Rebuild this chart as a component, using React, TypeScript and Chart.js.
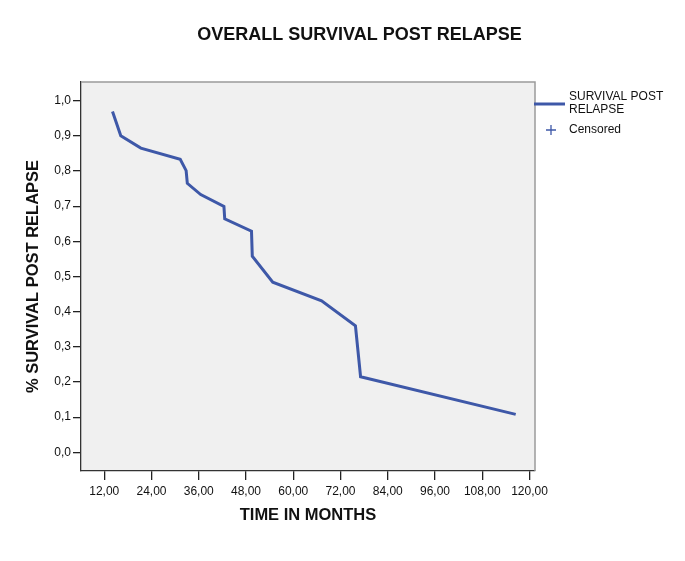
import React, { useEffect, useRef } from "react";
import { Chart, registerables } from "chart.js";

Chart.register(...registerables);

const chartTitle = "OVERALL SURVIVAL POST RELAPSE";
const xAxisTitle = "TIME IN MONTHS";
const yAxisTitle = "% SURVIVAL POST RELAPSE";
const seriesName = ["SURVIVAL POST", "RELAPSE"];
const censoredName = "Censored";

const months = [14.1, 16.2, 21.3, 31.3, 32.8, 33.1, 36.5, 42.4, 42.6, 49.4, 49.6, 54.8, 67.2, 75.8, 77.1, 116.5];
const survival = [0.969, 0.9, 0.865, 0.833, 0.801, 0.765, 0.733, 0.699, 0.664, 0.629, 0.558, 0.484, 0.431, 0.36, 0.215, 0.108];

const xTickValues = [12, 24, 36, 48, 60, 72, 84, 96, 108, 120];
const yTickValues = [0, 0.1, 0.2, 0.3, 0.4, 0.5, 0.6, 0.7, 0.8, 0.9, 1.0];

const LINE_COLOR = "#3e58a8";
const FONT = "Arial, 'Liberation Sans', sans-serif";

const decorPlugin = {
  id: "decor",
  beforeDraw(chart: any) {
    const { ctx, chartArea } = chart;
    ctx.save();
    ctx.fillStyle = "#f0f0f0";
    ctx.fillRect(chartArea.left, chartArea.top, chartArea.right - chartArea.left, chartArea.bottom - chartArea.top);
    ctx.restore();
  },
  afterDraw(chart: any) {
    const { ctx, chartArea } = chart;
    ctx.save();
    // top & right frame
    ctx.strokeStyle = "#9a9a9a";
    ctx.lineWidth = 1.5;
    ctx.beginPath();
    ctx.moveTo(chartArea.left, chartArea.top);
    ctx.lineTo(chartArea.right, chartArea.top);
    ctx.lineTo(chartArea.right, chartArea.bottom);
    ctx.stroke();

    // title
    ctx.fillStyle = "#111";
    ctx.font = `bold 18px ${FONT}`;
    ctx.textAlign = "center";
    ctx.textBaseline = "middle";
    ctx.fillText(chartTitle, 359.5, 35);

    // legend
    const lx = chartArea.right - 1;
    ctx.strokeStyle = LINE_COLOR;
    ctx.lineWidth = 3;
    ctx.beginPath();
    ctx.moveTo(lx, 104);
    ctx.lineTo(lx + 31, 104);
    ctx.stroke();

    ctx.font = `12px ${FONT}`;
    ctx.fillStyle = "#111";
    ctx.textAlign = "left";
    ctx.textBaseline = "middle";
    ctx.fillText(seriesName[0], 569, 96.5);
    ctx.fillText(seriesName[1], 569, 110);
    ctx.fillText(censoredName, 569, 129.5);

    ctx.strokeStyle = LINE_COLOR;
    ctx.lineWidth = 1.3;
    ctx.beginPath();
    ctx.moveTo(546, 130);
    ctx.lineTo(556, 130);
    ctx.moveTo(551, 125);
    ctx.lineTo(551, 135);
    ctx.stroke();
    ctx.restore();
  },
};

export default function App() {
  const canvasRef = useRef<HTMLCanvasElement | null>(null);

  useEffect(() => {
    if (!canvasRef.current) return;
    const data = months.map((m, i) => ({ x: m, y: survival[i] }));
    const chart = new Chart(canvasRef.current, {
      type: "line",
      data: {
        datasets: [
          {
            label: seriesName.join(" "),
            data,
            borderColor: LINE_COLOR,
            backgroundColor: LINE_COLOR,
            borderWidth: 3,
            pointRadius: 0,
            tension: 0,
            fill: false,
          },
        ],
      },
      options: {
        responsive: false,
        animation: false,
        devicePixelRatio: 1,
        layout: { padding: { top: 82, right: 150, left: 0, bottom: 0 } },
        plugins: {
          legend: { display: false },
          title: { display: false },
          tooltip: { enabled: false },
        },
        scales: {
          x: {
            type: "linear",
            min: 6.1,
            max: 121.4,
            afterFit(scale: any) {
              scale.height = 90;
            },
            afterBuildTicks(scale: any) {
              scale.ticks = xTickValues.map((v) => ({ value: v }));
            },
            ticks: {
              autoSkip: false,
              maxRotation: 0,
              padding: 4,
              color: "#111",
              font: { family: FONT, size: 12 },
              callback: (v: any) => Number(v).toFixed(2).replace(".", ","),
            },
            grid: {
              display: true,
              drawOnChartArea: false,
              drawTicks: true,
              tickLength: 9,
              color: "#222",
              lineWidth: 1.3,
            },
            border: { display: true, color: "#333", width: 1.3 },
            title: {
              display: true,
              text: xAxisTitle,
              color: "#111",
              font: { family: FONT, size: 16.5, weight: "bold" },
              padding: { top: 0, bottom: 36 },
            },
          },
          y: {
            type: "linear",
            min: -0.053,
            max: 1.053,
            afterFit(scale: any) {
              scale.width = 81;
            },
            afterBuildTicks(scale: any) {
              scale.ticks = yTickValues.map((v) => ({ value: v }));
            },
            ticks: {
              autoSkip: false,
              padding: 2,
              color: "#111",
              font: { family: FONT, size: 12 },
              callback: (v: any) => Number(v).toFixed(1).replace(".", ","),
            },
            grid: {
              display: true,
              drawOnChartArea: false,
              drawTicks: true,
              tickLength: 8,
              color: "#222",
              lineWidth: 1.3,
            },
            border: { display: true, color: "#333", width: 1.3 },
            title: {
              display: true,
              text: yAxisTitle,
              color: "#111",
              font: { family: FONT, size: 16.5, weight: "bold" },
              padding: { top: 24, bottom: 0 },
            },
          },
        },
      },
      plugins: [decorPlugin],
    });
    return () => chart.destroy();
  }, []);

  return (
    <div style={{ position: "absolute", left: 0, top: 0, width: 685, height: 561, background: "#fff" }}>
      <canvas ref={canvasRef} width={685} height={561} style={{ display: "block", width: 685, height: 561 }} />
    </div>
  );
}
